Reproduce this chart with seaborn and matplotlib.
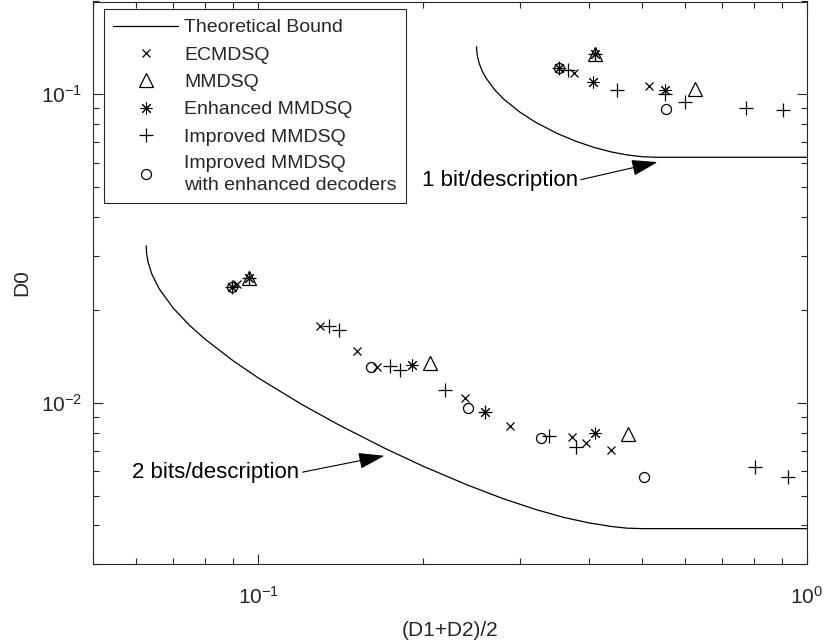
import numpy as np
import matplotlib
matplotlib.use("Agg")
import matplotlib.pyplot as plt
import seaborn as sns
from matplotlib.ticker import LogLocator, NullFormatter, LogFormatterSciNotation

# ---------------- data ----------------
# Theoretical bound, 1 bit/description
bound1_x = [0.25, 0.2502, 0.2505, 0.251, 0.253, 0.256, 0.26, 0.27, 0.28, 0.30, 0.32,
            0.35, 0.38, 0.41, 0.44, 0.47, 0.50, 0.53125, 1.0]
bound1_y = [0.14286, 0.13806, 0.13537, 0.13241, 0.12537, 0.11895, 0.11302, 0.10321,
            0.09656, 0.08746, 0.08124, 0.07477, 0.07034, 0.06722, 0.06505, 0.06361,
            0.06278, 0.0625, 0.0625]
# Theoretical bound, 2 bits/description
bound2_x = [0.0625, 0.0626, 0.063, 0.064, 0.066, 0.07, 0.075, 0.08, 0.09, 0.10, 0.12,
            0.14, 0.17, 0.20, 0.24, 0.28, 0.32, 0.36, 0.40, 0.44, 0.47, 0.502, 1.0]
bound2_y = [0.03226, 0.03054, 0.02855, 0.02613, 0.02342, 0.02027, 0.01781, 0.01608,
            0.01368, 0.01204, 0.00988, 0.00849, 0.00712, 0.00622, 0.00542, 0.00488,
            0.00451, 0.00425, 0.00408, 0.00397, 0.00392, 0.003906, 0.003906]

ecm_x = [0.376, 0.5156, 0.0914, 0.1294, 0.1514, 0.1647, 0.2386, 0.2873, 0.3736, 0.3952, 0.4388]
ecm_y = [0.1173, 0.1064, 0.0243, 0.01778, 0.01467, 0.01309, 0.01038, 0.00838, 0.00773, 0.00743, 0.00704]

mm_x = [0.4109, 0.6254, 0.0964, 0.206, 0.4723]
mm_y = [0.1355, 0.1043, 0.0254, 0.01341, 0.00793]

enh_x = [0.353, 0.4109, 0.407, 0.5513, 0.0895, 0.0964, 0.1907, 0.2585, 0.4115]
enh_y = [0.1217, 0.1355, 0.1096, 0.1036, 0.0238, 0.0254, 0.01325, 0.00931, 0.00795]

imp_x = [0.353, 0.367, 0.4109, 0.4499, 0.5513, 0.5996, 0.774, 0.905,
         0.0895, 0.0964, 0.1344, 0.1405, 0.1736, 0.1816, 0.2187, 0.2585,
         0.3387, 0.3789, 0.8037, 0.9253]
imp_y = [0.1217, 0.1196, 0.1355, 0.1036, 0.1, 0.0944, 0.0903, 0.0892,
         0.0238, 0.0254, 0.01769, 0.01722, 0.01318, 0.01277, 0.01102, 0.00931,
         0.00781, 0.00717, 0.0062, 0.00575]

enc_x = [0.353, 0.5546, 0.0895, 0.1606, 0.2411, 0.3271, 0.5048]
enc_y = [0.1217, 0.0899, 0.0238, 0.01309, 0.00958, 0.00768, 0.00575]

series_labels = ["Theoretical Bound", "ECMDSQ", "MMDSQ", "Enhanced MMDSQ",
                 "Improved MMDSQ", "Improved MMDSQ\nwith enhanced decoders"]
annot_labels = ["1 bit/description", "2 bits/description"]

# ---------------- style ----------------
sns.set_style("ticks")
plt.rcParams["font.family"] = ["Liberation Sans", "DejaVu Sans"]
plt.rcParams["mathtext.fontset"] = "custom"
plt.rcParams["mathtext.rm"] = "Liberation Sans"
plt.rcParams["mathtext.it"] = "Liberation Sans:italic"
plt.rcParams["mathtext.default"] = "regular"

AX = "#262626"
FS = 14

fig = plt.figure(figsize=(8.25, 6.42), dpi=100)
ax = fig.add_axes([93 / 825, 1 - 564 / 642, (807 - 93) / 825, (564 - 1.5) / 642])

sns.lineplot(x=bound1_x, y=bound1_y, ax=ax, color="k", lw=0.9, estimator=None,
             sort=False, label=series_labels[0])
sns.lineplot(x=bound2_x, y=bound2_y, ax=ax, color="k", lw=0.9, estimator=None,
             sort=False)


def pts(x, y, marker, ms, label, mew=0.9):
    sns.lineplot(x=x, y=y, ax=ax, estimator=None, sort=False, color="k",
                 linestyle="none", marker=marker, markersize=ms,
                 markerfacecolor="none", markeredgecolor="k",
                 markeredgewidth=mew, label=label)


pts(ecm_x, ecm_y, "x", 5.8, series_labels[1])
pts(mm_x, mm_y, "^", 9.5, series_labels[2])
pts(enh_x, enh_y, (8, 2, 0), 8.5, series_labels[3], mew=0.75)
pts(imp_x, imp_y, "+", 9.5, series_labels[4])
pts(enc_x, enc_y, "o", 7.2, series_labels[5])

ax.set_xscale("log")
ax.set_yscale("log")
ax.set_xlim(0.05, 1.0)
ax.set_ylim(0.003, 0.2)

for axis in (ax.xaxis, ax.yaxis):
    axis.set_major_locator(LogLocator(base=10, numticks=10))
    axis.set_minor_locator(LogLocator(base=10, subs=np.arange(2, 10), numticks=20))
    axis.set_major_formatter(LogFormatterSciNotation())
    axis.set_minor_formatter(NullFormatter())

ax.tick_params(which="both", direction="in", top=True, right=True,
               color=AX, width=0.8, labelcolor=AX, labelsize=15)
ax.tick_params(which="major", length=7)
ax.tick_params(which="minor", length=4)
ax.tick_params(axis="x", which="major", pad=16)
ax.tick_params(axis="y", which="major", pad=8)
for s in ax.spines.values():
    s.set_color(AX)
    s.set_linewidth(0.8)
    s.set_visible(True)

ax.set_xlabel("(D1+D2)/2", fontsize=15, color=AX, labelpad=9)
ax.set_ylabel("D0", fontsize=15, color=AX, labelpad=7)

arrow = dict(arrowstyle="-|>,head_length=0.9,head_width=0.28", color="k", lw=0.8,
             shrinkA=0, shrinkB=0, mutation_scale=18, relpos=(1.0, 0.5))
ax.annotate(annot_labels[0], xy=(0.534, 0.0603), xytext=(0.382, 0.0526),
            ha="right", va="center", fontsize=16, color="k", arrowprops=arrow)
ax.annotate(annot_labels[1], xy=(0.1698, 0.00673), xytext=(0.1188, 0.005927),
            ha="right", va="center", fontsize=16, color="k", arrowprops=arrow)

handles, labels = ax.get_legend_handles_labels()
leg = ax.legend(handles, labels, loc="upper left",
                bbox_to_anchor=(11 / 714, 1 - 8 / 563), borderaxespad=0,
                frameon=True, fancybox=False, edgecolor=AX, framealpha=1,
                fontsize=FS, handlelength=3.35, handletextpad=0.3,
                labelspacing=0.5, borderpad=0.48)
leg.get_frame().set_linewidth(0.8)
leg.get_texts()[-1].set_linespacing(1.35)

fig.savefig("out.png", dpi=100)
